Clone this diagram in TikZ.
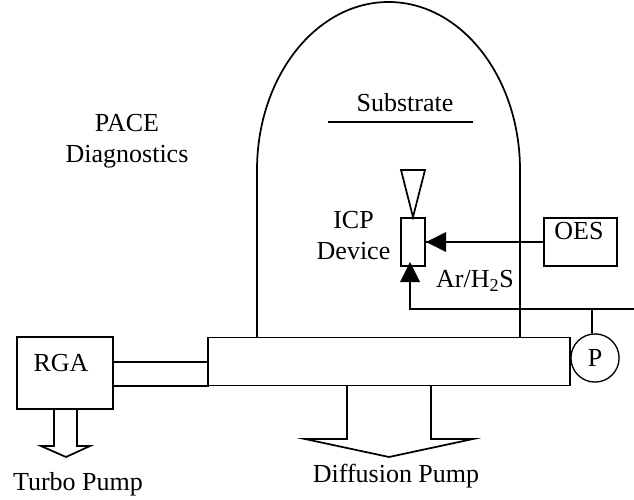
\documentclass[tikz,border=0pt]{standalone}
\usepackage{fontspec}
\setmainfont{Liberation Serif}
\tikzset{
  line/.style={line width=1.3pt},
  box/.style={draw,line width=1.3pt,rectangle,inner sep=0pt},
  label/.style={inner sep=0pt,anchor=base},
  twolines/.style={inner sep=0pt,align=center},
  head/.style={fill=black,draw=none}
}
\begin{document}
\begin{tikzpicture}[x=0.75pt,y=-0.75pt,font=\fontsize{19.5}{23.25}\selectfont]
  \useasboundingbox (0,0) rectangle (634,499);
  % boxes
  \draw[line]
    (257,337) -- (257,170) arc[start angle=180,end angle=360,x radius=131.5,y radius=168] -- (520,337);
  \node[box,fill=white,minimum width=270bp,minimum height=36bp] (chamber) at (389,361.5) {};
  \node[box,minimum width=72bp,minimum height=54bp] (rga) at (65,373) {};
  \node[box,minimum width=18bp,minimum height=36bp] (icp) at (413,242) {};
  \node[box,minimum width=54.75bp,minimum height=36bp] (oes) at (580.5,242) {};
  \node[draw,circle,line width=1pt,minimum size=36bp,inner sep=0pt] (p) at (595,358) {P};
  % labels
  \node[label] (rgatext) at (61,371) {RGA};
  \node[label] (oestext) at (579,239) {OES};
  \node[label] (substrate) at (405,112) {Substrate};
  \node[twolines] (pace) at (127,141.5) {PACE\\Diagnostics};
  \node[twolines] (device) at (353.5,235.5) {ICP\\Device};
  \node[label] (gas) at (475,287) {Ar/H\textsubscript{2}S};
  \node[label] (turbo) at (78,490) {Turbo Pump};
  \node[label] (diffusion) at (396,482) {Diffusion Pump};
  % connectors
  \coordinate (gasin) at (634,309);
  \coordinate (tap) at (592,309);
  \draw[line] (328,122) -- (473,122);
  \draw[line] (icp.north) -- (401,170) -- (425,170) -- cycle;
  \draw[line] (oes.west) -- (icp.east);
  \fill[head] (426,242) -- (446,232) -- (446,252) -- cycle;
  \draw[line] (gasin) -- (410,309) -- (410,266);
  \fill[head] (410,262) -- (400,282) -- (420,282) -- cycle;
  \draw[line] (tap) -- (p.97);
  \draw[line] (113,362) -- (209,362);
  \draw[line] (113,386) -- (209,386);
  % pumps
  \draw[line] (54,409) -- (54,446) -- (41,446) -- (66,457) -- (90,446) -- (77,446) -- (77,409);
  \draw[line] (347,385) -- (347,439) -- (305,439) -- (389,457) -- (473,439) -- (431,439) -- (431,385);
\end{tikzpicture}
\end{document}
